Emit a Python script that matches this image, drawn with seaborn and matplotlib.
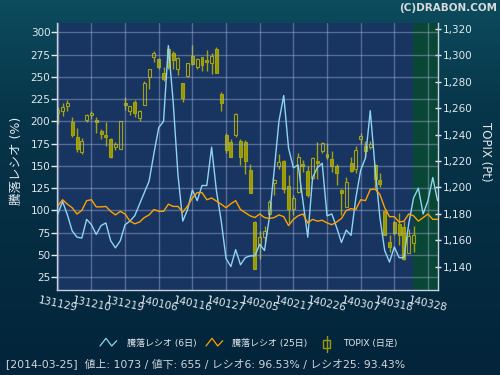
import numpy as np
import matplotlib
matplotlib.use('Agg')
import matplotlib.pyplot as plt
from matplotlib.colors import LinearSegmentedColormap
from matplotlib.lines import Line2D
from matplotlib.patches import Rectangle
from matplotlib.ticker import FuncFormatter
import seaborn as sns

# x tick labels, one every 7 trading days starting 2013-11-29
tick_labels = ['131129', '131210', '131219', '140106', '140116', '140127',
               '140205', '140217', '140226', '140307', '140318', '140328']
last_day = 74  # index of 2014-03-25

# 騰落レシオ (6日) and (25日), percent
ratio6 = [96, 110, 95, 77, 70, 69, 90, 84, 73, 83,
          86, 66, 58, 66, 84, 88, 94, 107, 120, 133,
          164, 193, 200, 285, 222, 140, 88, 101, 123, 111,
          128, 128, 171, 122, 88, 46, 37, 56, 39, 47,
          49, 49, 62, 55, 92, 144, 200, 229, 170, 148,
          151, 110, 70, 137, 148, 153, 94, 96, 81, 64,
          78, 72, 114, 145, 159, 212, 148, 92, 55, 42,
          59, 47, 47, 85, 114, 125, 96, 111, 137, 111]
ratio25 = [105, 112, 107, 103, 96, 100, 111, 112, 104, 104,
           104.5, 99, 95, 99, 96, 88, 85, 87, 92, 95,
           101, 99, 99, 107, 104.5, 104.5, 98, 105, 114, 120,
           120, 112, 114, 110.5, 107, 103, 107.5, 111, 101, 97.5,
           94, 92, 96, 92, 91, 92, 95, 93, 83, 90,
           94, 96, 86, 90, 88, 89, 86, 84, 87, 91,
           100, 102, 101, 112, 111, 123.5, 124, 118, 103, 93,
           93, 87, 88, 96, 94, 88, 92, 96, 90, 90]

# TOPIX daily candles
topix_open = [1256.5, 1257.7, 1262.0, 1249.5, 1238.0, 1226.5, 1251.0, 1255.0, 1251.0, 1242.5,
              1240.0, 1237.0, 1231.0, 1229.5, 1264.0, 1257.7, 1264.7, 1252.6, 1262.7, 1283.7,
              1298.5, 1297.0, 1287.0, 1305.0, 1301.6, 1289.5, 1279.0, 1284.4, 1299.6, 1291.5,
              1298.5, 1296.5, 1294.0, 1304.6, 1270.8, 1239.5, 1234.4, 1239.5, 1235.4, 1234.4,
              1213.2, 1173.9, 1156.7, 1162.2, 1180.2, 1203.7, 1216.3, 1220.3, 1201.1, 1183.9,
              1196.6, 1218.1, 1212.2, 1207.2, 1220.1, 1227.9, 1225.4, 1221.8, 1216.3, 1198.1,
              1185.5, 1218.3, 1214.2, 1236.5, 1231.4, 1230.4, 1216.8, 1205.7, 1182.4, 1158.7,
              1173.9, 1172.3, 1170.3, 1150.6, 1158.2]
topix_high = [1261.0, 1264.0, 1266.0, 1253.5, 1245.0, 1237.5, 1256.0, 1257.7, 1253.5, 1244.0,
              1249.5, 1237.5, 1234.5, 1250.5, 1268.5, 1262.0, 1266.0, 1258.4, 1280.4, 1290.0,
              1303.0, 1298.0, 1291.0, 1306.4, 1303.0, 1299.0, 1279.4, 1294.5, 1308.0, 1298.0,
              1299.0, 1304.0, 1302.0, 1306.4, 1272.3, 1241.3, 1237.0, 1256.1, 1237.0, 1236.0,
              1217.8, 1174.4, 1167.3, 1170.8, 1190.3, 1206.7, 1225.4, 1220.8, 1209.2, 1194.1,
              1225.9, 1221.1, 1216.1, 1222.8, 1234.4, 1234.4, 1233.4, 1227.9, 1217.8, 1199.1,
              1208.2, 1223.3, 1231.4, 1241.5, 1235.4, 1235.4, 1217.8, 1211.2, 1183.9, 1163.8,
              1174.9, 1180.4, 1174.4, 1168.3, 1170.8]
topix_low = [1248.0, 1254.0, 1258.0, 1238.0, 1227.0, 1225.5, 1249.5, 1252.0, 1241.5, 1236.5,
             1231.5, 1222.0, 1228.0, 1229.5, 1259.0, 1255.0, 1253.4, 1250.0, 1262.2, 1274.8,
             1295.0, 1290.0, 1280.4, 1290.0, 1290.0, 1285.0, 1265.0, 1283.7, 1293.0, 1289.5,
             1288.5, 1288.5, 1286.0, 1287.0, 1258.2, 1226.4, 1223.3, 1238.0, 1217.3, 1210.2,
             1195.6, 1138.5, 1146.0, 1158.7, 1179.4, 1194.1, 1214.2, 1196.1, 1173.4, 1178.9,
             1196.1, 1212.0, 1192.5, 1206.7, 1206.7, 1226.4, 1221.8, 1212.0, 1202.1, 1179.4,
             1185.0, 1211.7, 1211.2, 1233.0, 1222.3, 1229.4, 1199.6, 1200.1, 1163.8, 1151.1,
             1163.8, 1156.7, 1145.1, 1150.1, 1151.1]
topix_close = [1258.5, 1261.0, 1264.0, 1240.0, 1229.5, 1235.5, 1254.5, 1256.7, 1249.5, 1240.5,
               1238.5, 1223.0, 1233.0, 1250.0, 1262.7, 1261.4, 1256.7, 1257.7, 1279.0, 1289.5,
               1301.6, 1291.0, 1282.0, 1291.0, 1296.3, 1298.0, 1268.0, 1294.0, 1293.5, 1297.0,
               1293.0, 1295.0, 1299.6, 1287.0, 1264.2, 1228.6, 1223.3, 1255.6, 1223.3, 1220.3,
               1196.1, 1138.5, 1162.2, 1167.3, 1189.0, 1205.7, 1219.3, 1199.1, 1183.5, 1192.0,
               1223.3, 1216.1, 1194.1, 1222.3, 1218.5, 1233.4, 1222.8, 1216.3, 1211.2, 1196.1,
               1204.2, 1212.2, 1228.4, 1239.0, 1227.4, 1232.9, 1206.7, 1202.6, 1164.3, 1154.7,
               1165.3, 1163.8, 1145.6, 1163.3, 1163.8]

status = '[2014-03-25]  値上: 1073 / 値下: 655 / レシオ6: 96.53% / レシオ25: 93.43%'

sns.set_style('dark')
plt.rcParams['font.family'] = ['DejaVu Sans', 'Noto Sans CJK JP']

txt = '#e2e8ee'
plot_bg = '#183461'
c6 = '#8fd4f2'
c25 = '#ffa200'
olive = '#a3a310'

fig = plt.figure(figsize=(5, 3.75), dpi=100)

# page background gradient
bg = fig.add_axes([0, 0, 1, 1], zorder=-10)
grad = np.linspace(0, 1, 256).reshape(-1, 1)
cmap = LinearSegmentedColormap.from_list('bg', [(0, '#0c4c5d'), (0.3, '#073549'), (1, '#03243a')])
bg.imshow(grad, aspect='auto', cmap=cmap, extent=[0, 1, 0, 1])
bg.axis('off')

ax = fig.add_axes([0.1146, 0.2267, 0.762, 0.7112])
ax2 = ax.twinx()
ax.set_zorder(ax2.get_zorder() + 1)
ax.patch.set_visible(False)
ax2.patch.set_visible(True)
ax2.set_facecolor(plot_bg)

# shaded zone after the last trading day
ax2.axvspan(last_day - 0.05, 90, color='#0a4636', lw=0, zorder=0)

# candles
o = np.array(topix_open)
h = np.array(topix_high)
l = np.array(topix_low)
c = np.array(topix_close)
days = np.arange(len(o))
up = c >= o
top = np.maximum(o, c)
bot = np.minimum(o, c)
ax2.vlines(days, l, bot, color=olive, lw=1, zorder=2)
ax2.vlines(days, top, h, color=olive, lw=1, zorder=2)
ax2.bar(days[~up], (top - bot)[~up], bottom=bot[~up], width=0.62,
        color='#999900', edgecolor=olive, lw=0.8, zorder=3)
ax2.bar(days[up], np.maximum((top - bot)[up], 0.8), bottom=bot[up], width=0.62,
        facecolor='none', edgecolor=olive, lw=0.8, zorder=3)

# ratio lines
xr = np.arange(len(ratio6))
sns.lineplot(x=xr, y=ratio6, ax=ax, color=c6, lw=1.0)
sns.lineplot(x=xr, y=ratio25, ax=ax, color=c25, lw=1.0)

ax.set_xlim(-0.1, 79.15)
ax.set_ylim(10.7, 310.1)
ax2.set_ylim(1122.4, 1324.3)

ax.set_yticks(range(25, 301, 25))
ax.set_xticks(np.arange(len(tick_labels)) * 7)
ax.set_xticklabels(tick_labels, rotation=-12, ha='center')
ax2.set_yticks(range(1140, 1321, 20))
ax2.yaxis.set_major_formatter(FuncFormatter(lambda v, p: f'{int(v):,}'))

ax.grid(True, color='#a8b8d8', alpha=0.42, lw=1)
ax2.grid(False)

ax.tick_params(axis='y', colors=txt, labelsize=7.5, length=4, width=1, direction='out', pad=1)
ax.tick_params(axis='x', colors=txt, labelsize=7.5, length=3, width=1, direction='out', pad=1)
ax2.tick_params(axis='y', colors=txt, labelsize=7.5, length=5, width=1, direction='inout', pad=1)

for s in ['left', 'right', 'bottom']:
    ax.spines[s].set_visible(True)
    ax.spines[s].set_color('#c8d0e0')
    ax.spines[s].set_linewidth(1)
ax.spines['top'].set_visible(False)
for s in ax2.spines.values():
    s.set_visible(False)

ax.set_xlabel('')
ax.set_ylabel('騰落レシオ (%)', color=txt, fontsize=9, va='center')
ax.yaxis.set_label_coords(-0.108, 0.484)
ax2.set_ylabel('TOPIX (Pt)', color=txt, fontsize=8.5, rotation=270, va='center')
ax2.yaxis.set_label_coords(1.125, 0.517)

# header
fig.text(0.994, 1 - 8 / 375, '(C)DRABON.COM', ha='right', va='center',
         fontsize=7.5, fontweight='bold', color='#d6dadc')


def px(x, y):
    return x / 500, 1 - y / 375


# legend drawn by hand (zigzag icons)
for x0, col in [(100, c6), (206, c25)]:
    pts = [px(x0, 346), px(x0 + 6, 338.3), px(x0 + 11.7, 346), px(x0 + 16.7, 340.7)]
    fig.add_artist(Line2D([p[0] for p in pts], [p[1] for p in pts], color=col, lw=0.9))
fig.add_artist(Line2D([326.7 / 500] * 2, [1 - 336 / 375, 1 - 352 / 375], color='#9a9a10', lw=1))
fig.add_artist(Rectangle(px(323.3, 348.3), 6.7 / 500, 8.3 / 375, facecolor='#052a3e',
                         edgecolor='#9a9a10', lw=1))
for x0, s in [(127, '騰落レシオ (6日)'), (232, '騰落レシオ (25日)'), (343, 'TOPIX (日足)')]:
    fig.text(*px(x0, 343.5), s, ha='left', va='center', fontsize=6.5, color=txt)

fig.text(*px(6, 364), status, ha='left', va='center', fontsize=7.8, color='#d0d6dc')

fig.savefig('out.png', dpi=100, facecolor=fig.get_facecolor())
